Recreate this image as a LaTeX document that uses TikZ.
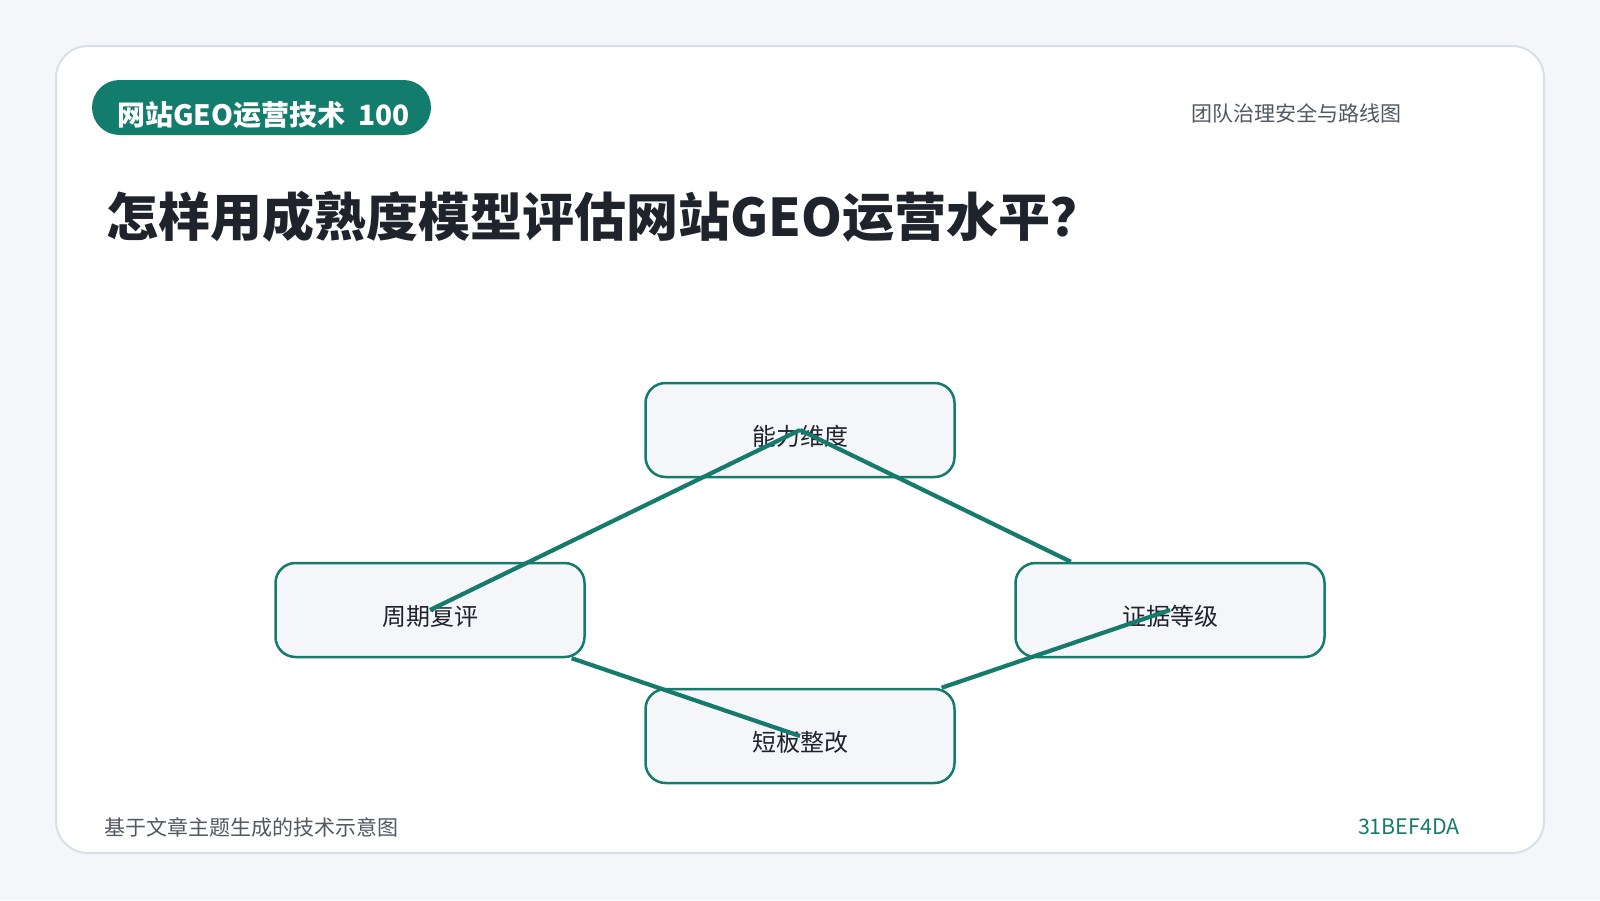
\documentclass[tikz,border=0pt]{standalone}
\usepackage{fontspec}
\setmainfont{Noto Sans CJK SC}
\usetikzlibrary{positioning, shapes}
\definecolor{geo_teal}{HTML}{167A6C}
\definecolor{badge_teal}{HTML}{127C6D}
\definecolor{page_bg}{HTML}{F4F6FA}
\definecolor{card_line}{HTML}{D9DEE7}
\definecolor{box_fill}{HTML}{F4F6F9}
\definecolor{ink_dark}{HTML}{1F232B}
\definecolor{ink_gray}{HTML}{525862}

\begin{document}
\begin{tikzpicture}[x=0.5pt, y=-0.5pt]
	\tikzset{
		every node/.style={inner sep=0pt}, % text sits right on its anchor
		stage/.style={draw=geo_teal, line width=1.25pt, fill=box_fill, rounded corners=10pt, on grid, % the four boxes of the cycle
			minimum width=154.5pt, minimum height=47pt, text=ink_dark,
			font=\fontsize{12pt}{14pt}\selectfont, text height=1.6em, text depth=0.1em},
		link/.style={draw=geo_teal, line width=2.1pt}, % plain lines, no heads
		note/.style={anchor=west, text=ink_gray, font=\fontsize{10.5pt}{12pt}\selectfont},
	}
	\tikzstyle{heading} = [anchor=west, text=ink_dark, font=\bfseries\fontsize{26pt}{30pt}\selectfont]
	\useasboundingbox[fill=page_bg] (0,0) rectangle (1600,900);
	\draw[card_line, line width=1pt, fill=white, rounded corners=16pt] (56,46) rectangle (1544,853);
	\fill[badge_teal, rounded corners=13.75pt] (92,80) rectangle (431,135);
	\node[anchor=west, text=white, font=\bfseries\fontsize{14pt}{16pt}\selectfont] (badge) at (117,115.5) {网站GEO运营技术\ \ 100};
	\node[note] (topic) at (1191,113) {团队治理安全与路线图};
	\node[heading] (title) at (106,217) {怎样用成熟度模型评估网站GEO运营水平？};
	\node[stage] (dim) at (800,430) {能力维度};
	\node[stage, below left=90pt and 185pt of dim] (review) {周期复评};
	\node[stage, below right=90pt and 185pt of dim] (evid) {证据等级};
	\node[stage, below=153pt of dim] (fix) {短板整改};
	\draw[link]
	  (dim.center) -- (evid)
	  (evid.center) -- (fix)
	  (fix.center) -- (review)
	  (review.center) -- (dim.center);
	\node[note] (source) at (104,827) {基于文章主题生成的技术示意图};
	\node[anchor=east, text=geo_teal, font=\fontsize{10.7pt}{13pt}\selectfont] (hash) at (1460,827) {31BEF4DA};
\end{tikzpicture}
\end{document}
